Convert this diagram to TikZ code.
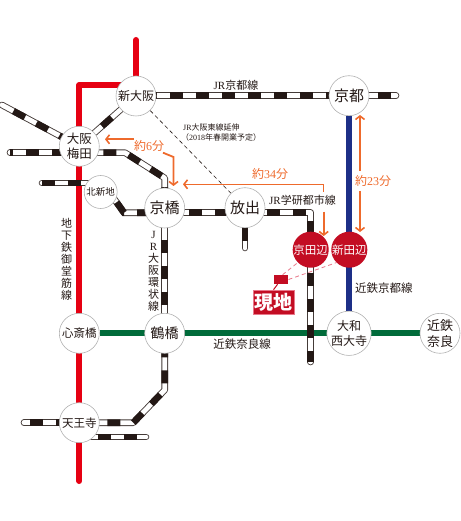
\documentclass[tikz,border=0pt]{standalone}
\usepackage{fontspec}
\setmainfont{Noto Sans CJK JP}
\newfontfamily\lat{Liberation Serif}
\usetikzlibrary{arrows.meta,backgrounds}
\definecolor{jrk}{HTML}{231815}
\definecolor{subred}{HTML}{E60012}
\definecolor{kgreen}{HTML}{006B3A}
\definecolor{kblue}{HTML}{1D2F87}
\definecolor{sred}{HTML}{C30D23}
\definecolor{oran}{HTML}{EE6A2C}
\definecolor{pinkish}{HTML}{E8788A}
\newcommand{\fs}[1]{\fontsize{#1}{#1}\selectfont}
\tikzset{
  stn/.style={circle,draw=black!30,line width=.6pt,fill=white,inner sep=0pt,minimum size=40pt,align=center,text=jrk},
  small stn/.style={stn,minimum size=33pt},
  red stn/.style={circle,fill=sred,inner sep=0pt,minimum size=33pt,align=center,text=white},
  lbl/.style={inner sep=0pt,text=jrk,align=center},
  olbl/.style={inner sep=0pt,text=oran},
  vlbl/.style={lbl,font=\fontsize{11}{12}\selectfont},
  jro/.style={draw=jrk!85,line width=6.6pt,line cap=round,line join=round},
  jrw/.style={draw=white,line width=4.8pt,line cap=round,line join=round},
  jrb/.style={draw=jrk,line width=6.6pt,dash pattern=on 13pt off 13pt},
  subway/.style={draw=subred,line width=6pt,line cap=round,line join=round},
  kint/.style={line width=5.8pt},
  oar/.style={draw=oran,line width=1.8pt},
  othin/.style={draw=oran,line width=1.2pt},
  head/.style={-{Straight Barb[length=3.5pt,width=9pt,line width=1.6pt]}},
  genchi/.style={draw=pinkish,line width=.5pt,fill=sred,inner sep=0pt}
}
\newcommand{\jrline}[2]{\draw[jro] #2; \draw[jrw] #2; \draw[jrb,dash phase=#1pt] #2;}
\begin{document}
\begin{tikzpicture}[x=1pt,y=-1pt]
\useasboundingbox (0,0) rectangle (460,521);
\node[stn,font=\fs{12}] (shinosaka) at (136,96) {新大阪};
\node[stn,font=\fontsize{12.5}{15.5}\selectfont] (umeda) at (79.3,146.3) {大阪\\梅田};
\node[small stn,font=\fs{9.5}] (kitashinchi) at (100.7,192) {北新地};
\node[stn,font=\fs{15}] (kyobashi) at (164.7,208) {京橋};
\node[stn,font=\fs{15}] (hanaten) at (245,207.7) {放出};
\node[stn,font=\fs{15}] (kyoto) at (349,95.7) {京都};
\node[red stn,font=\fs{11.5}] (kyotanabe) at (310.7,249.7) {京田辺};
\node[red stn,font=\fs{11.5}] (shintanabe) at (349.3,249.7) {新田辺};
\node[stn,font=\fontsize{12}{15}\selectfont] (saidaiji) at (349,333.3) {大和\\西大寺};
\node[stn,font=\fontsize{13}{16}\selectfont] (nara) at (440,333.3) {近鉄\\奈良};
\node[stn,font=\fs{11.5}] (shinsaibashi) at (79.3,333.3) {心斎橋};
\node[stn,font=\fs{14}] (tsuruhashi) at (164.7,333.3) {鶴橋};
\node[stn,font=\fs{11.5}] (tennoji) at (79.3,422.7) {天王寺};
% free ends and bends
\coordinate (redtop) at (136,40);
\coordinate (redbot) at (79.3,481);
\coordinate (redc1) at (136,85);
\coordinate (redc2) at (79.3,85);
\coordinate (a1) at (2,105);
\coordinate (a2) at (10,152.7);
\coordinate (u1) at (79.3,152.7);
\coordinate (u2) at (125,152.7);
\coordinate (u3) at (164.7,178);
\coordinate (k1) at (42,183);
\coordinate (k2) at (100.7,183);
\coordinate (k3) at (110,193);
\coordinate (k4) at (124,212.7);
\coordinate (k5) at (164.7,212.7);
\coordinate (g1) at (310.7,212.7);
\coordinate (g2) at (310.7,362);
\coordinate (h1) at (245,248);
\coordinate (r1) at (164.7,390);
\coordinate (r2) at (133.3,422.7);
\coordinate (t1) at (24,422.7);
\coordinate (t2) at (85,437);
\coordinate (t3) at (146,437);
\coordinate (jk1) at (136,95.7);
\coordinate (jk2) at (396,95.7);
\begin{scope}[on background layer]
\draw[subway] (redtop) -- (redc1) (shinosaka) -- (redc1) -- (redc2) -- (redbot);
\draw[kint,kblue] (kyoto) -- (saidaiji);
\draw[kint,kgreen] (shinsaibashi) -- (nara);
\jrline{18}{(jk1) -- (jk2)}
\jrline{13}{(a1) -- (umeda.center)}
\jrline{10}{(a2) -- (u1)}
\jrline{2}{(u1) -- (u2) -- (u3) -- (kyobashi.center)}
\jrline{19.5}{(shinosaka.center) -- (umeda.center)}
\jrline{0}{(k1) -- (k2)}
\jrline{14.6}{(k3) -- (k4) -- (k5)}
\jrline{2}{(k5) -- (g1) -- (g2)}
\jrline{6}{(hanaten.center) -- (h1)}
\jrline{20}{(kyobashi.center) -- (tsuruhashi.center)}
\jrline{15}{(tsuruhashi.center) -- (r1) -- (r2) -- (tennoji.center)}
\jrline{20}{(t1) -- (tennoji.center)}
\jrline{13}{(t2) -- (t3)}
\draw[jrk,line width=.6pt,dash pattern=on 4pt off 3pt] (shinosaka) -- (hanaten);
\end{scope}
% labels
\node[lbl,font=\fs{11}] (ljk) at (236,85) {{\lat JR}京都線};
\node[lbl,font=\fs{8},anchor=west] (ltozai) at (183,127.7) {{\lat JR}大阪東線延伸};
\node[lbl,font=\fs{8},anchor=west] (ltozai2) at (181,137.3) {（{\lat 2018}年春開業予定）};
\node[lbl,font=\fs{11},anchor=west] (lgk) at (269,200.7) {{\lat JR}学研都市線};
\node[lbl,font=\fs{11.5},anchor=west] (lkk) at (355,288) {近鉄京都線};
\node[lbl,font=\fs{11.5}] (lkn) at (242,344) {近鉄奈良線};
\node[vlbl] (lmido) at (66.5,259) {地\\下\\鉄\\御\\堂\\筋\\線};
\node[vlbl] (lloop) at (153.5,271) {{\lat J}\\{\lat R}\\大\\阪\\環\\状\\線};
% orange times
\node[olbl,font=\fs{12}] (t6) at (149,145.7) {約{\lat 6}分};
\node[olbl,font=\fs{12}] (t34) at (270,174) {約{\lat 34}分};
\node[olbl,font=\fs{12}] (t23) at (373,181) {約{\lat 23}分};
\coordinate (o1) at (134,139.3);
\coordinate (o2) at (105,139.3);
\coordinate (o3) at (163,152.7);
\coordinate (o4) at (173.5,157);
\coordinate (o5) at (173.5,186);
\coordinate (o6) at (323.7,192);
\coordinate (o7) at (323.7,184.3);
\coordinate (o8) at (183,184.3);
\coordinate (o9) at (323.7,211.7);
\coordinate (o10) at (323.7,236);
\coordinate (o11) at (360,115);
\coordinate (o12) at (360,171);
\coordinate (o13) at (360,191);
\coordinate (o14) at (360,232);
\draw[oar,head] (o1) -- (o2);
\draw[oar,head] (o3) -- (o4) -- (o5);
\draw[othin,head] (o6) -- (o7) -- (o8);
\draw[oar,head] (o9) -- (o10);
\draw[oar,head] (o12) -- (o11);
\draw[oar,head] (o13) -- (o14);
% site marker
\node[genchi,draw=none,minimum width=14pt,minimum height=9pt] (mark) at (281.3,279.5) {};
\node[genchi,text=white,font=\bfseries\fs{19},minimum width=41.5pt,minimum height=24pt] (site) at (273.5,302) {現地};
\draw[sred,line width=1pt] (mark.south west) ++(3.5,0) -- (site.north);
\draw[pinkish,line width=.8pt,dash pattern=on 4pt off 3pt] (mark.north east) ++(-6,0) -- (kyotanabe.south west);
\draw[pinkish,line width=.8pt,dash pattern=on 4pt off 3pt] (mark.east) -- (shintanabe.south west);
\end{tikzpicture}
\end{document}
